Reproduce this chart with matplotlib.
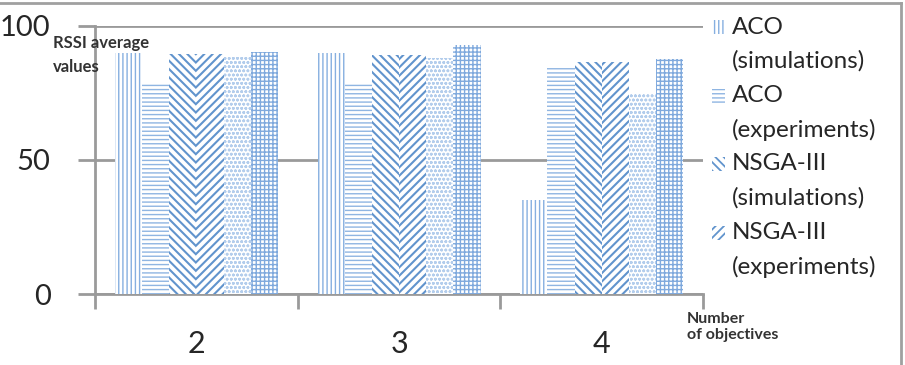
import numpy as np
import matplotlib.pyplot as plt
from matplotlib.lines import Line2D
from matplotlib.patches import Rectangle


plt.rcParams['font.family'] = ['Lato', 'DejaVu Sans']

objectives  = ['2', '3', '4']
aco_sim     = [89.9, 89.9, 35.0]
aco_exp     = [78.7, 78.7, 84.7]
nsga_sim    = [89.5, 89.2, 86.6]
nsga_exp    = [89.5, 89.2, 86.6]
extra_a     = [88.4, 88.0, 74.6]
extra_b     = [90.3, 92.9, 87.7]

legend_names = ['ACO', 'ACO', 'NSGA-III', 'NSGA-III']
legend_kinds = ['(simulations)', '(experiments)', '(simulations)', '(experiments)']

series = [
    (aco_sim,  '||||',       '#86afe0', 1.0),
    (aco_exp,  '----',       '#8fb5e2', 1.0),
    (nsga_sim, '\\\\\\\\',   '#6194cd', 1.5),
    (nsga_exp, '////',       '#6194cd', 1.5),
    (extra_a,  'oooo',       '#b3cdec', 0.8),
    (extra_b,  '++++',       '#7fa9dd', 1.0),
]

GRID = '#9a9a9a'
TEXT = '#262626'
W, H = 905, 365

fig = plt.figure(figsize=(W / 100, H / 100), dpi=100)
ax = fig.add_axes([0.105, 0.1945, 0.672, 0.7345])

x = np.arange(len(objectives))
w = 0.134
for i, (vals, hatch, color, hlw) in enumerate(series):
    plt.rcParams['hatch.linewidth'] = hlw
    ax.bar(x + (i - 2.5) * w, vals, w, facecolor='white', edgecolor=color,
           linewidth=0, hatch=hatch, zorder=3)

ax.set_xlim(-0.5, 2.5)
ax.set_ylim(0, 100)
ax.set_yticks([0, 50, 100])
ax.yaxis.grid(True, color=GRID, linewidth=2, zorder=1)
ax.tick_params(axis='y', length=12, width=2, color=GRID, labelsize=21,
               pad=20, labelcolor=TEXT)

ax.set_xticks([-0.5, 0.5, 1.5, 2.5])
ax.set_xticklabels([])
ax.set_xticks(x, minor=True)
ax.set_xticklabels(objectives, minor=True)
ax.tick_params(axis='x', which='major', length=11, width=2, color=GRID)
ax.tick_params(axis='x', which='minor', length=0, labelsize=22, pad=26,
               labelcolor=TEXT)

for s in ['top', 'right']:
    ax.spines[s].set_visible(False)
for s in ['left', 'bottom']:
    ax.spines[s].set_color(GRID)
    ax.spines[s].set_linewidth(2)

fig.text(53 / W, 1 - 55 / H, 'RSSI average\nvalues', fontsize=12,
         fontweight='bold', color='#333333', ha='left', va='center',
         linespacing=1.55)
fig.text(687 / W, 1 - 327 / H, 'Number\nof objectives', fontsize=11.5,
         fontweight='bold', color='#333333', ha='left', va='center',
         linespacing=1.15)

# legend, drawn entry by entry (4 of the 6 series are listed)
for k in range(4):
    _, hatch, color, hlw = series[k]
    y0 = 27 + 68.5 * k
    plt.rcParams['hatch.linewidth'] = min(hlw, 1.3)
    fig.add_artist(Rectangle((712 / W, 1 - (y0 + 7) / H), 13 / W, 14 / H,
                             transform=fig.transFigure, facecolor='white',
                             edgecolor=color, linewidth=0, hatch=hatch))
    fig.text(732 / W, 1 - y0 / H, legend_names[k], fontsize=17.5,
             color=TEXT, ha='left', va='center')
    fig.text(732 / W, 1 - (y0 + 34) / H, legend_kinds[k], fontsize=17.5,
             color=TEXT, ha='left', va='center')

# outer frame (top and right edges)
fig.add_artist(Line2D([0, 901 / W], [1 - 3 / H, 1 - 3 / H],
                      transform=fig.transFigure, color='#a0a0a0', linewidth=2))
fig.add_artist(Line2D([901 / W, 901 / W], [0, 1 - 3 / H],
                      transform=fig.transFigure, color='#a0a0a0', linewidth=2))

fig.savefig('out.png', dpi=100)
